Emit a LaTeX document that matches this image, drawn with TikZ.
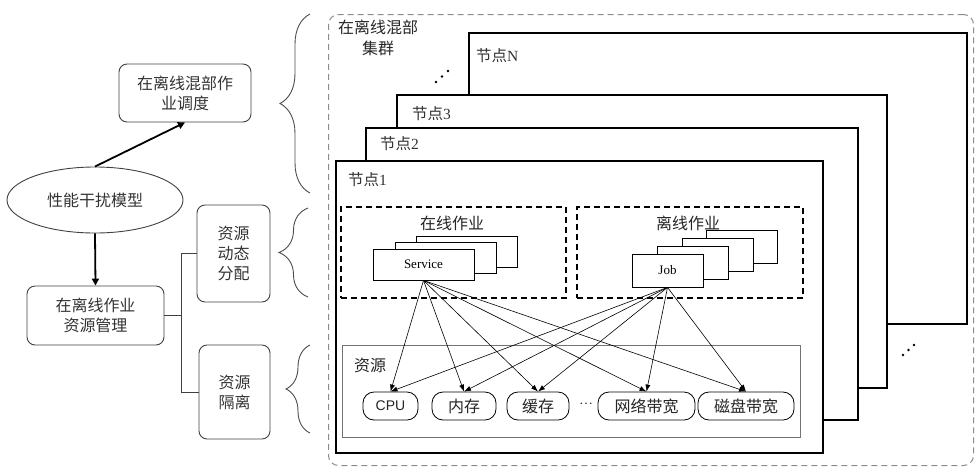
\documentclass[tikz,border=0pt]{standalone}
\usepackage{fontspec}
\setmainfont{Liberation Serif}
\newfontfamily\cn{Noto Sans CJK SC}
\newfontfamily\ar{Liberation Sans}
\usetikzlibrary{arrows.meta,decorations.pathreplacing,shapes.geometric}
\begin{document}
\begin{tikzpicture}[x=1pt,y=-1pt,
  txt/.style={text=black!80, inner sep=0pt},
  lbox/.style={draw=black!75, line width=0.9pt, rounded corners=8pt, align=center,
    font=\cn\fontsize{16}{20}\selectfont, text=black!80, inner sep=0pt},
  model/.style={draw=black!75, line width=0.9pt, ellipse, minimum width=176, minimum height=66,
    font=\cn\fontsize{16}{20}\selectfont, text=black!80, inner sep=0pt},
  bigarrow/.style={line width=1.8pt, black, -{Triangle[length=7pt,width=7pt]}},
  tree/.style={draw=black!75, line width=0.9pt},
  bracer/.style={draw=black!70, line width=0.9pt, decorate, decoration={brace, amplitude=#1}},
  cluster/.style={draw=black!45, line width=1pt, dash pattern=on 6pt off 4pt, rounded corners=10pt, inner sep=0pt},
  nodebox/.style={draw=black, line width=1.5pt, fill=white, inner sep=0pt, anchor=north west},
  jobarea/.style={draw=black, line width=1.6pt, dash pattern=on 6pt off 4pt, inner sep=0pt, anchor=north west},
  resarea/.style={draw=black!55, line width=1.1pt, inner sep=0pt, anchor=north west},
  stackbox/.style={draw=black, line width=0.8pt, fill=white, inner sep=0pt, font=\fontsize{13}{15}\selectfont},
  pill/.style={draw=black, line width=0.8pt, rounded corners=11pt, minimum height=28, inner sep=0pt,
    font=\cn\fontsize{16}{18}\selectfont, text=black!85},
  resarrow/.style={line width=0.6pt, black, -{Latex[length=7pt,width=5pt]}},
  lbl/.style={font=\cn\fontsize{16}{21}\selectfont, text=black!85, inner sep=0pt, align=center}
]
\useasboundingbox (0,0) rectangle (975,467);

% ---- left part ----
\node[lbox, minimum width=132, minimum height=58] (sched) at (185,93) {在离线混部作\\业调度};
\node[model] (model) at (95,200) {性能干扰模型};
\node[lbox, minimum width=137, minimum height=59] (mgmt) at (95.5,315.5) {在离线作业\\资源管理};
\node[lbox, minimum width=73, minimum height=97] (dyn) at (233.5,253.5) {资源\\动态\\分配};
\node[lbox, minimum width=71, minimum height=94] (iso) at (234.5,392) {资源\\隔离};

\draw[bigarrow] (model.north) -- (sched.south);
\draw[bigarrow] (model.south) -- (mgmt.north);
\draw[tree] (mgmt.east) -- ++(17,0) coordinate (j);
\draw[tree] (dyn.west) -| (j) |- (iso.west);

% braces
\coordinate (b1a) at (310,193); \coordinate (b1b) at (310,14);
\coordinate (b2a) at (308,297); \coordinate (b2b) at (308,208);
\coordinate (b3a) at (310,433); \coordinate (b3b) at (310,345);
\draw[bracer=30pt] (b1a) -- (b1b);
\draw[bracer=29pt] (b2a) -- (b2b);
\draw[bracer=24pt] (b3a) -- (b3b);

% ---- cluster ----
\node[cluster, anchor=north west, minimum width=645, minimum height=451] (cl) at (328,14) {};
\node[lbl] (cllabel) at (378,38) {在离线混部\\集群};

\node[nodebox, minimum width=498, minimum height=291] (nN) at (468,32) {};
\node[nodebox, minimum width=490, minimum height=293] (n3) at (396,94) {};
\node[nodebox, minimum width=492, minimum height=292] (n2) at (365,127) {};
\node[nodebox, minimum width=487, minimum height=292] (n1) at (335,160) {};

\node[txt, anchor=west, font=\fontsize{15.5}{18}\selectfont] (lN) at (476,56) {{\cn 节点}N};
\node[txt, anchor=west, font=\fontsize{15.5}{18}\selectfont] (l3) at (412,114) {{\cn 节点}3};
\node[txt, anchor=west, font=\fontsize{15.5}{18}\selectfont] (l2) at (380,144) {{\cn 节点}2};
\node[txt, anchor=west, font=\fontsize{15.5}{18}\selectfont] (l1) at (348,180) {{\cn 节点}1};

\fill (436,82) circle (1.4pt); \fill (442,76.5) circle (1.4pt); \fill (448,71) circle (1.4pt);
\fill (903,355) circle (1.4pt); \fill (908.5,350) circle (1.4pt); \fill (914,345) circle (1.4pt);

% job areas
\node[jobarea, minimum width=225, minimum height=91] (online) at (340,206) {};
\node[jobarea, minimum width=226, minimum height=91] (offline) at (576,206) {};
\node[lbl] (onlbl) at (452,223) {在线作业};
\node[lbl] (offlbl) at (688,223) {离线作业};

\node[stackbox, minimum width=101, minimum height=31] (s3) at (466.5,251.5) {};
\node[stackbox, minimum width=101, minimum height=31] (s2) at (445.5,257.5) {};
\node[stackbox, minimum width=101, minimum height=31] (svc) at (423.5,264.5) {Service};

\node[stackbox, minimum width=71, minimum height=33] (j4) at (741.5,246.5) {};
\node[stackbox, minimum width=71, minimum height=33] (j3) at (717.5,254.5) {};
\node[stackbox, minimum width=71, minimum height=33] (j2) at (692.5,262.5) {};
\node[stackbox, minimum width=71, minimum height=33] (job) at (667.5,270.5) {Job};

% resources
\node[resarea, minimum width=458, minimum height=92] (res) at (342,345) {};
\node[lbl] (reslbl) at (370,365) {资源};
\node[pill, minimum width=55, font=\ar\fontsize{14}{16}\selectfont] (cpu) at (390.5,406) {CPU};
\node[pill, minimum width=64] (mem) at (464,406) {内存};
\node[pill, minimum width=62] (cache) at (538,406) {缓存};
\node[txt, font=\fontsize{14}{16}\selectfont] (dots) at (586,404) {\ldots};
\node[pill, minimum width=97] (net) at (646.5,406) {网络带宽};
\node[pill, minimum width=96] (disk) at (746,406) {磁盘带宽};

\foreach \r in {cpu,mem,cache,net,disk} {
  \draw[resarrow] (svc.south) -- (\r.north);
  \draw[resarrow] (job.south) -- (\r.north);
}
\end{tikzpicture}
\end{document}
